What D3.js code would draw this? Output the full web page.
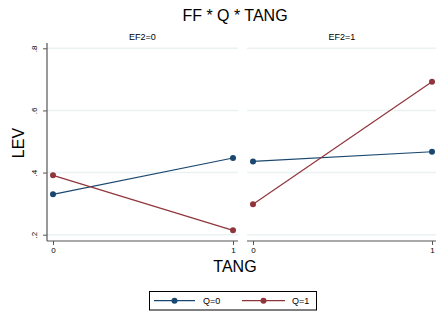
<!DOCTYPE html>
<html>
<head>
<meta charset="utf-8">
<script src="https://cdn.jsdelivr.net/npm/d3@7"></script>
<style>
  body { margin: 0; background: #fff; }
  text { font-family: "Liberation Sans", Arial, sans-serif; fill: #000; }
</style>
</head>
<body>
<div id="chart"></div>
<script>
// data
var panels = ["EF2=0", "EF2=1"];
var tang = [0, 1];
var seriesNames = ["Q=0", "Q=1"];
var q0 = [[0.330, 0.447], [0.436, 0.467]];   // per panel, TANG 0 -> 1
var q1 = [[0.391, 0.214], [0.298, 0.692]];
var yTicks = [0.2, 0.4, 0.6, 0.8];
var colors = ["#1a476f", "#90353b"];

var width = 436, height = 313;
var svg = d3.select("#chart").append("svg")
  .attr("width", width).attr("height", height);

// title
svg.append("text").attr("x", 235).attr("y", 20.5)
  .attr("text-anchor", "middle").style("font-size", "16px")
  .text("FF * Q * TANG");

var y = d3.scaleLinear().domain([0.2, 0.8]).range([234.7, 48.3]);
var panelX = [[47, 238], [247, 437]];

panelX.forEach(function(px, i) {
  var x = d3.scaleLinear().domain([0, 1]).range([px[0] + 6, px[1] - 5]);
  var g = svg.append("g");

  // subtitle
  g.append("text").attr("x", (px[0] + px[1]) / 2).attr("y", 39.5)
    .attr("text-anchor", "middle").style("font-size", "9px")
    .text(panels[i]);

  // grid lines
  g.selectAll(".grid").data(yTicks).enter().append("line")
    .attr("x1", px[0]).attr("x2", px[1])
    .attr("y1", function(d) { return y(d); })
    .attr("y2", function(d) { return y(d); })
    .style("stroke", "#eaf2f3").style("stroke-width", 1.5);

  // x axis
  var xa = g.append("g").attr("transform", "translate(0,241)")
    .call(d3.axisBottom(x).tickValues(tang).tickSize(4).tickFormat(d3.format("d")));
  xa.select(".domain").attr("d", "M" + px[0] + ",0H" + px[1])
    .style("stroke", "#555").style("stroke-width", 1.2);
  xa.selectAll(".tick line").style("stroke", "#555");
  xa.selectAll(".tick text").style("font-size", "8px").attr("y", 6)
    .style("font-family", "Liberation Sans, Arial, sans-serif");

  // y axis only on first panel
  if (i == 0) {
    var ya = g.append("g").attr("transform", "translate(" + px[0] + ",0)")
      .call(d3.axisLeft(y).tickValues(yTicks).tickSize(4)
        .tickFormat(function(d) { return d3.format(".1f")(d).replace(/^0/, ""); }));
    ya.select(".domain").attr("d", "M0,43V241")
      .style("stroke", "#555").style("stroke-width", 1.2);
    ya.selectAll(".tick line").style("stroke", "#555");
    ya.selectAll(".tick text").style("font-size", "8px")
      .style("font-family", "Liberation Sans, Arial, sans-serif")
      .attr("x", null).attr("dy", null)
      .attr("text-anchor", "middle")
      .attr("transform", "translate(-10,0) rotate(-90)");
  }

  // series
  [q0[i], q1[i]].forEach(function(vals, s) {
    var pts = tang.map(function(t, k) { return [x(t), y(vals[k])]; });
    g.append("path").attr("d", d3.line()(pts))
      .style("fill", "none").style("stroke", colors[s]).style("stroke-width", 1.2);
    g.selectAll(".pt" + s).data(pts).enter().append("circle")
      .attr("cx", function(d) { return d[0]; })
      .attr("cy", function(d) { return d[1]; })
      .attr("r", 3).style("fill", colors[s]);
  });
});

// axis titles
svg.append("text").attr("transform", "translate(24,143) rotate(-90)")
  .attr("text-anchor", "middle").style("font-size", "16px").text("LEV");
svg.append("text").attr("x", 235).attr("y", 272)
  .attr("text-anchor", "middle").style("font-size", "16px").text("TANG");

// legend
var lg = svg.append("g");
lg.append("rect").attr("x", 149.5).attr("y", 291.5).attr("width", 167).attr("height", 18.5)
  .style("fill", "#fff").style("stroke", "#000").style("stroke-width", 1);
var legX = [[154, 195, 203], [242, 285, 292]];
seriesNames.forEach(function(name, s) {
  var lx = legX[s];
  lg.append("line").attr("x1", lx[0]).attr("x2", lx[1]).attr("y1", 300.7).attr("y2", 300.7)
    .style("stroke", colors[s]).style("stroke-width", 1.2);
  lg.append("circle").attr("cx", (lx[0] + lx[1]) / 2).attr("cy", 300.7).attr("r", 3)
    .style("fill", colors[s]);
  lg.append("text").attr("x", lx[2]).attr("y", 304).style("font-size", "9px").text(name);
});
</script>
</body>
</html>
